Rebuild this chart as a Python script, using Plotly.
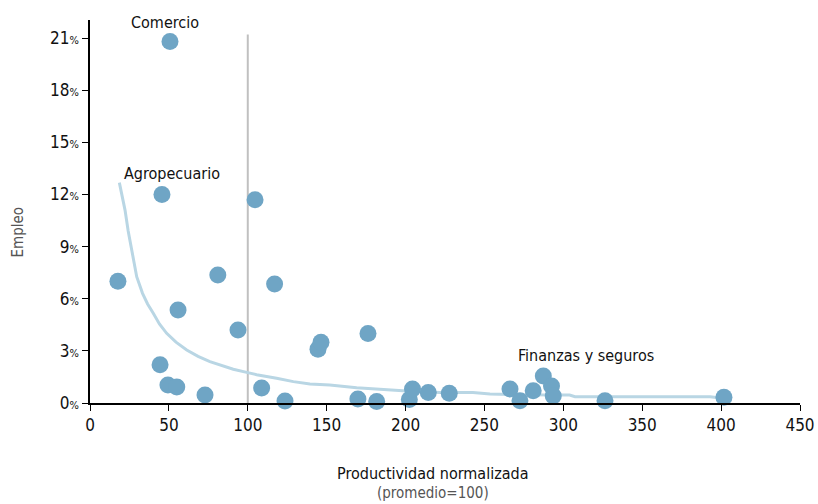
import plotly.graph_objects as go

# Sector points: normalized productivity (x) vs employment share (% , y)
prod = [50.7, 45.6, 104.6, 17.7, 81.0, 117.0, 55.8, 93.8, 144.5, 146.4, 176.2,
        44.4, 49.4, 55.0, 72.9, 108.8, 123.6, 169.8, 181.7, 202.4, 204.4, 214.4,
        227.7, 266.2, 272.5, 280.9, 287.3, 292.5, 293.6, 326.4, 401.8]
empleo = [20.8, 12.0, 11.7, 7.0, 7.37, 6.85, 5.35, 4.2, 3.1, 3.5, 4.0,
          2.2, 1.04, 0.92, 0.46, 0.86, 0.12, 0.23, 0.08, 0.2, 0.8, 0.6,
          0.56, 0.8, 0.13, 0.7, 1.55, 0.98, 0.4, 0.13, 0.33]

# Reference curve
curve_x = [18.6, 20.3, 22.2, 24.2, 26.4, 29.6, 33.3, 36.5, 40.1, 44.0, 48.6,
           54.5, 61.3, 68.5, 76.0, 83.5, 90.8, 100.0,
           105.6, 118.3, 128.9, 139.4, 152.0, 169.0, 188.0, 200.7, 221.8, 242.7,
           253.5, 272.5, 304.0, 307.4, 393.0, 401.0]
curve_y = [12.68, 11.9, 11.1, 9.9, 8.8, 7.27, 6.31, 5.7, 5.16, 4.55, 4.01,
           3.5, 3.05, 2.68, 2.38, 2.14, 1.94, 1.75,
           1.63, 1.42, 1.23, 1.09, 1.04, 0.88, 0.75, 0.69, 0.61, 0.61,
           0.52, 0.47, 0.46, 0.36, 0.36, 0.27]

y_ticks = [0, 3, 6, 9, 12, 15, 18, 21]
y_ticktext = [f"{v}<span style='font-size:11px'>%</span>" for v in y_ticks]
x_ticks = [0, 50, 100, 150, 200, 250, 300, 350, 400, 450]

labels = ["Comercio", "Agropecuario", "Finanzas y seguros"]
label_x = [47.5, 52, 314.3]
label_y = [21.9, 13.23, 2.76]

FONT = "DejaVu Sans Condensed, Liberation Sans Narrow, sans-serif"
DOT = "#6fa5c5"

fig = go.Figure()
fig.add_trace(go.Scatter(x=curve_x, y=curve_y, mode="lines",
                         line=dict(color="#b9d6e4", width=3),
                         hoverinfo="skip", showlegend=False, cliponaxis=False))
fig.add_trace(go.Scatter(x=prod, y=empleo, mode="markers",
                         marker=dict(color=DOT, size=17, line=dict(width=0)),
                         showlegend=False, cliponaxis=False))

fig.add_shape(type="line", x0=100, x1=100, y0=0, y1=21.2,
              line=dict(color="#c0c0c0", width=2), layer="below")

for t, x, y in zip(labels, label_x, label_y):
    fig.add_annotation(x=x, y=y, text=t, showarrow=False,
                       xanchor="center", yanchor="middle",
                       font=dict(family=FONT, size=16, color="#111111"))

fig.add_annotation(xref="paper", yref="paper", x=0.483, y=-0.183,
                   xanchor="center", yanchor="middle",
                   text="Productividad normalizada", showarrow=False,
                   font=dict(family=FONT, size=16, color="#111111"))
fig.add_annotation(xref="paper", yref="paper", x=0.483, y=-0.235,
                   xanchor="center", yanchor="middle",
                   text="(promedio=100)", showarrow=False,
                   font=dict(family=FONT, size=15, color="#555555"))
fig.add_annotation(xref="paper", yref="paper", x=-0.101, y=0.446,
                   xanchor="center", yanchor="middle",
                   text="Empleo", showarrow=False, textangle=-90,
                   font=dict(family=FONT, size=15, color="#555555"))

fig.update_layout(
    width=818, height=504, autosize=False,
    margin=dict(l=90, r=18, t=20, b=101),
    paper_bgcolor="white", plot_bgcolor="white",
    font=dict(family=FONT, size=16, color="#111111"),
    xaxis=dict(range=[0, 450], tickvals=x_ticks, showgrid=False, zeroline=False,
               showline=True, linecolor="black", linewidth=1.5, automargin=False,
               ticks="outside", ticklen=6, tickcolor="black",
               tickfont=dict(family=FONT, size=17, color="#111111")),
    yaxis=dict(range=[0, 22.04], tickvals=y_ticks, ticktext=y_ticktext,
               showgrid=False, zeroline=False, automargin=False,
               showline=True, linecolor="black", linewidth=1.5,
               ticks="outside", ticklen=6, tickcolor="black",
               tickfont=dict(family=FONT, size=17, color="#111111")),
)

fig.write_html("out.html", config={"responsive": False, "displayModeBar": False},
               post_script="document.body.style.margin='0';document.body.style.overflow='hidden';")
